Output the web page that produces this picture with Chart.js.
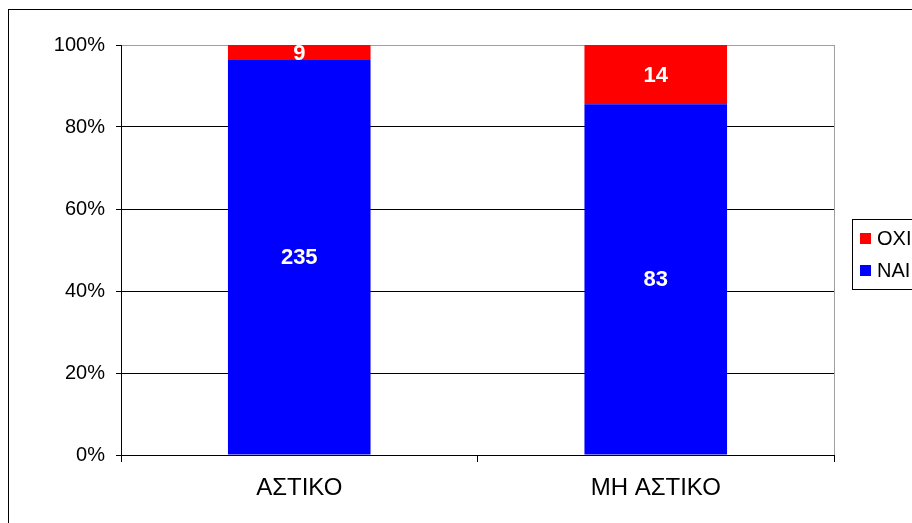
<!DOCTYPE html>
<html>
<head>
<meta charset="utf-8">
<script src="https://cdn.jsdelivr.net/npm/chart.js@4/dist/chart.umd.min.js"></script>
<style>
  html, body { margin: 0; padding: 0; background: #fff; overflow: hidden; }
  #wrap { position: relative; width: 912px; height: 523px; }
</style>
</head>
<body>
<div id="wrap"><canvas id="chart" width="912" height="523"></canvas></div>
<script>
const categories = ['ΑΣΤΙΚΟ', 'ΜΗ ΑΣΤΙΚΟ'];
const naiCounts = [235, 83];
const oxiCounts = [9, 14];
const yTicks = [0, 20, 40, 60, 80, 100];

const FONT = "'Liberation Sans', Arial, sans-serif";

// 100% stacked: share of each answer within the category
const totals = categories.map((c, i) => naiCounts[i] + oxiCounts[i]);
const naiPct = naiCounts.map((v, i) => v / totals[i] * 100);
const oxiPct = oxiCounts.map((v, i) => v / totals[i] * 100);

const decor = {
    id: 'decor',
    afterDraw(chart) {
        const ctx = chart.ctx;
        const a = chart.chartArea;
        ctx.save();

        // gray right edge of the plot area
        ctx.strokeStyle = '#a0a0a0';
        ctx.lineWidth = 1;
        ctx.beginPath();
        ctx.moveTo(a.right + 0.5, a.top);
        ctx.lineTo(a.right + 0.5, a.bottom);
        ctx.stroke();

        // value labels (raw counts) in the middle of each segment
        ctx.fillStyle = '#fff';
        ctx.font = 'bold 22px ' + FONT;
        ctx.textAlign = 'center';
        ctx.textBaseline = 'middle';
        chart.data.datasets.forEach((ds, di) => {
            chart.getDatasetMeta(di).data.forEach((bar, i) => {
                const mid = (bar.y + bar.base) / 2;
                ctx.fillText(String(ds.counts[i]), bar.x, mid + 1);
            });
        });

        // outer chart border
        ctx.strokeStyle = '#000';
        ctx.lineWidth = 1;
        ctx.strokeRect(8.5, 9.5, 1000, 1000);

        // legend box (clipped on the right like the original)
        ctx.strokeRect(852.5, 219.5, 100, 70);
        ctx.font = '20px ' + FONT;
        ctx.textAlign = 'left';
        const items = chart.data.datasets.slice().reverse();
        items.forEach((ds, k) => {
            const cy = 238 + k * 32;
            ctx.fillStyle = ds.backgroundColor;
            ctx.fillRect(860, cy - 5, 11, 11);
            ctx.fillStyle = '#000';
            ctx.fillText(ds.label, 877, cy + 1);
        });
        ctx.restore();
    }
};

new Chart(document.getElementById('chart').getContext('2d'), {
    type: 'bar',
    data: {
        labels: categories,
        datasets: [{
            label: 'ΝΑΙ',
            data: naiPct,
            counts: naiCounts,
            backgroundColor: '#0000ff',
            borderWidth: 0
        }, {
            label: 'ΟΧΙ',
            data: oxiPct,
            counts: oxiCounts,
            backgroundColor: '#ff0000',
            borderWidth: 0
        }]
    },
    options: {
        responsive: false,
        animation: false,
        events: [],
        layout: { padding: { left: 0, top: 45, right: 78, bottom: 0 } },
        plugins: { legend: { display: false }, tooltip: { enabled: false } },
        datasets: { bar: { categoryPercentage: 1, barPercentage: 0.4 } },
        scales: {
            x: {
                stacked: true,
                afterFit: s => { s.height = 68; },
                grid: { display: true, drawOnChartArea: false, offset: true, color: '#000', tickLength: 7 },
                border: { color: '#000' },
                ticks: { color: '#000', font: { family: FONT, size: 24 }, padding: 12 }
            },
            y: {
                stacked: true,
                min: 0,
                max: 100,
                afterFit: s => { s.width = 121; },
                afterBuildTicks: s => { s.ticks = yTicks.map(v => ({ value: v })); },
                grid: {
                    color: c => (c.tick && c.tick.value === 100) ? '#a0a0a0' : '#000',
                    tickColor: '#000',
                    tickLength: 5
                },
                border: { color: '#000' },
                ticks: {
                    color: '#000',
                    font: { family: FONT, size: 20 },
                    padding: 11,
                    callback: v => v + '%'
                }
            }
        }
    },
    plugins: [decor]
});
</script>
</body>
</html>
